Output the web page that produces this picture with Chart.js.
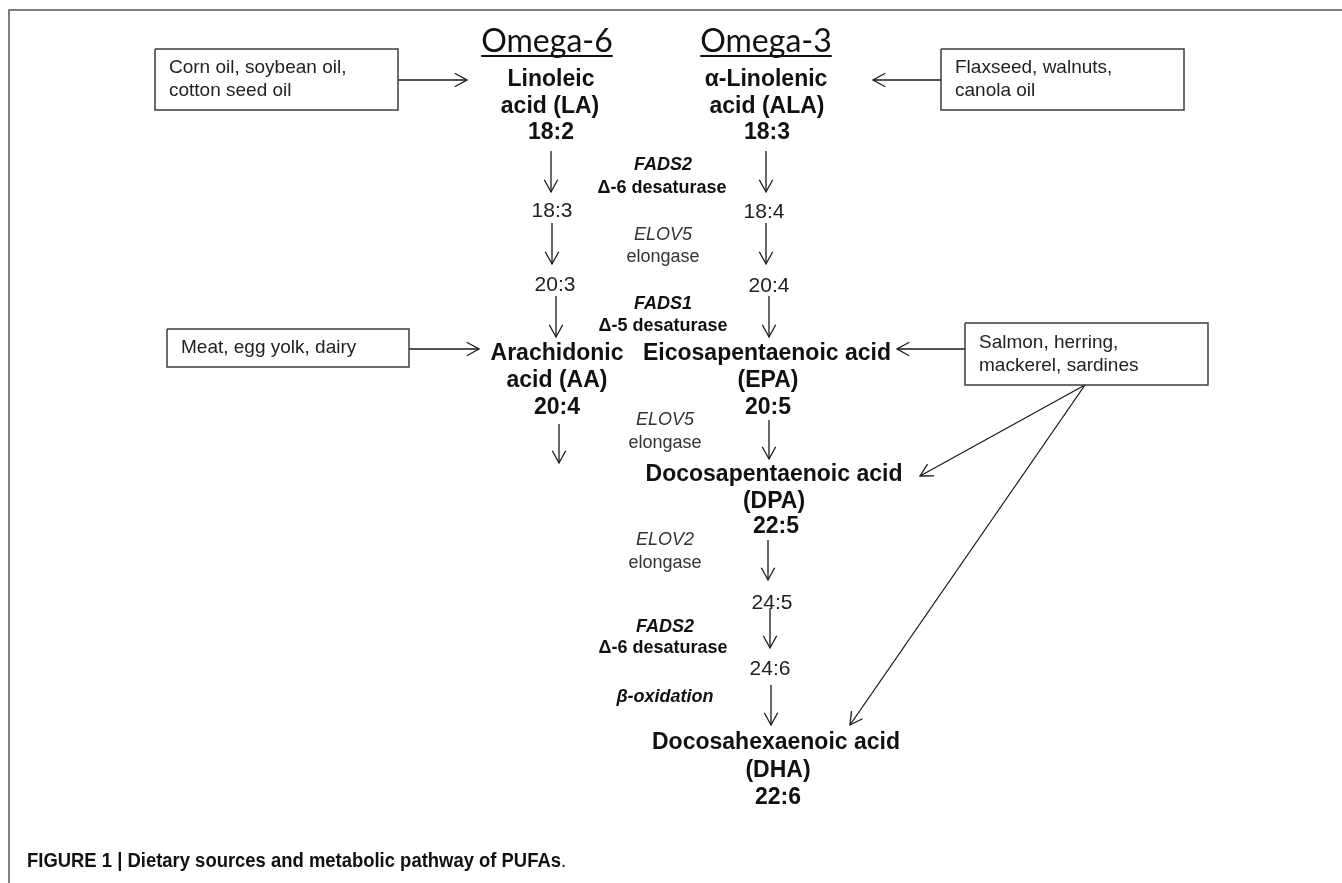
<!DOCTYPE html>
<html>
<head>
<meta charset="utf-8">
<title>Dietary sources and metabolic pathway of PUFAs</title>
<script src="https://cdn.jsdelivr.net/npm/chart.js@4.4.1/dist/chart.umd.min.js"></script>
<style>
  html, body { margin: 0; padding: 0; background: #fff; }
  #wrap { position: relative; width: 1342px; height: 883px; }
</style>
</head>
<body>
<div id="wrap"><canvas id="pathwayChart"></canvas></div>
<script>
// Diagram units are the picture's own pixels: x to the right, y downward

const omegaHeadings = [
    ['Omega-6', 547, 42],
    ['Omega-3', 766, 42]
];

// Fatty acids on the pathway: text, x, y
const compoundLines = [
    ['Linoleic', 551, 80], ['acid (LA)', 550, 107], ['18:2', 551, 133],
    ['α-Linolenic', 766, 80], ['acid (ALA)', 767, 107], ['18:3', 767, 133],
    ['Arachidonic', 557, 354], ['acid (AA)', 557, 381], ['20:4', 557, 408],
    ['Eicosapentaenoic acid', 767, 354], ['(EPA)', 768, 381], ['20:5', 768, 408],
    ['Docosapentaenoic acid', 774, 475], ['(DPA)', 774, 502], ['22:5', 776, 527],
    ['Docosahexaenoic acid', 776, 743], ['(DHA)', 778, 771], ['22:6', 778, 798]
];

const intermediates = [
    ['18:3', 552, 211], ['20:3', 555, 285],
    ['18:4', 764, 212], ['20:4', 769, 286],
    ['24:5', 772, 603], ['24:6', 770, 669]
];

// Enzymes between the two columns: text, x, y, face
const enzymeLabels = [
    ['FADS2', 663, 165, 'bold italic'], ['Δ-6 desaturase', 662, 188, 'bold'],
    ['ELOV5', 663, 235, 'italic'], ['elongase', 663, 257, 'normal'],
    ['FADS1', 663, 304, 'bold italic'], ['Δ-5 desaturase', 663, 326, 'bold'],
    ['ELOV5', 665, 420, 'italic'], ['elongase', 665, 443, 'normal'],
    ['ELOV2', 665, 540, 'italic'], ['elongase', 665, 563, 'normal'],
    ['FADS2', 665, 627, 'bold italic'], ['Δ-6 desaturase', 663, 648, 'bold'],
    ['β-oxidation', 665, 697, 'bold italic']
];

// Food sources: text lines, box left, top, right, bottom
const foodSources = [
    [['Corn oil, soybean oil,', 'cotton seed oil'], 155, 49, 398, 110],
    [['Flaxseed, walnuts,', 'canola oil'], 941, 49, 1184, 110],
    [['Meat, egg yolk, dairy'], 167, 329, 409, 367],
    [['Salmon, herring,', 'mackerel, sardines'], 965, 323, 1208, 385]
];

// Arrows: from x, from y, to x, to y
const conversionSteps = [
    [551, 151, 551, 192], [552, 223, 552, 264], [556, 296, 556, 337], [559, 424, 559, 463],
    [766, 151, 766, 192], [766, 223, 766, 264], [769, 296, 769, 337], [769, 420, 769, 459],
    [768, 540, 768, 580], [770, 608, 770, 648], [771, 685, 771, 725]
];
const sourceArrows = [
    [398, 80, 467, 80], [941, 80, 873, 80], [409, 349, 479, 349], [965, 349, 897, 349],
    [1085, 385, 920, 476], [1085, 385, 850, 725]
];

const frameLine = [[9, 883], [9, 10], [1342, 10]];

const captionText = ['FIGURE 1 | Dietary sources and metabolic pathway of PUFAs', '.', 27, 861];

const FONT = '"Liberation Sans", Arial, sans-serif';

function buildDatasets() {
    const sets = [];
    sets.push({
        data: frameLine.map(p => ({ x: p[0], y: p[1] })),
        borderColor: '#555', borderWidth: 1.5
    });
    foodSources.forEach(s => {
        const [, l, t, r, b] = s;
        sets.push({
            data: [{ x: l, y: t }, { x: r, y: t }, { x: r, y: b }, { x: l, y: b }, { x: l, y: t }],
            borderColor: '#3c3c3c', borderWidth: 1.5
        });
    });
    conversionSteps.concat(sourceArrows).forEach(a => {
        sets.push({
            data: [{ x: a[0], y: a[1] }, { x: a[2], y: a[3] }],
            borderColor: '#1a1a1a', borderWidth: 1.3, arrowHead: true
        });
    });
    sets.forEach(d => {
        d.showLine = true;
        d.pointRadius = 0;
        d.fill = false;
        d.tension = 0;
        d.borderJoinStyle = 'miter';
    });
    return sets;
}

const diagramText = {
    id: 'diagramText',
    afterDatasetsDraw(chart) {
        const ctx = chart.ctx;
        const sx = v => chart.scales.x.getPixelForValue(v);
        const sy = v => chart.scales.y.getPixelForValue(v);
        ctx.save();

        // open arrow heads
        chart.data.datasets.forEach((ds, i) => {
            if (!ds.arrowHead) return;
            const pts = chart.getDatasetMeta(i).data;
            const a = pts[0], b = pts[1];
            const ang = Math.atan2(b.y - a.y, b.x - a.x);
            const len = 14, spread = 0.5;
            ctx.strokeStyle = ds.borderColor;
            ctx.lineWidth = ds.borderWidth;
            ctx.beginPath();
            ctx.moveTo(b.x - len * Math.cos(ang - spread), b.y - len * Math.sin(ang - spread));
            ctx.lineTo(b.x, b.y);
            ctx.lineTo(b.x - len * Math.cos(ang + spread), b.y - len * Math.sin(ang + spread));
            ctx.stroke();
        });

        ctx.fillStyle = '#111';
        ctx.textBaseline = 'middle';
        ctx.textAlign = 'center';

        // Omega headings with underline
        ctx.font = '32px Lato, "Open Sans", sans-serif';
        omegaHeadings.forEach(h => {
            const x = sx(h[1]), y = sy(h[2]);
            ctx.fillText(h[0], x, y);
            const w = ctx.measureText(h[0]).width;
            ctx.strokeStyle = '#111';
            ctx.lineWidth = 2;
            ctx.beginPath();
            ctx.moveTo(x - w / 2, y + 14);
            ctx.lineTo(x + w / 2, y + 14);
            ctx.stroke();
        });

        ctx.font = 'bold 23px ' + FONT;
        compoundLines.forEach(c => ctx.fillText(c[0], sx(c[1]), sy(c[2])));

        ctx.fillStyle = '#222';
        ctx.font = '21px ' + FONT;
        intermediates.forEach(c => ctx.fillText(c[0], sx(c[1]), sy(c[2])));

        enzymeLabels.forEach(e => {
            ctx.fillStyle = e[3] === 'italic' || e[3] === 'normal' ? '#333' : '#111';
            ctx.font = e[3] + ' 18px ' + FONT;
            ctx.fillText(e[0], sx(e[1]), sy(e[2]));
        });

        // food source texts
        ctx.fillStyle = '#222';
        ctx.textAlign = 'left';
        ctx.font = '19px ' + FONT;
        foodSources.forEach(s => {
            const [lines, l, t, , b] = s;
            const mid = (t + b) / 2;
            lines.forEach((txt, k) => {
                const off = (k - (lines.length - 1) / 2) * 23;
                ctx.fillText(txt, sx(l) + 14, sy(mid + off));
            });
        });

        // caption, squeezed to the original's condensed width
        ctx.fillStyle = '#111';
        ctx.font = 'bold 20px ' + FONT;
        const bw = ctx.measureText(captionText[0]).width;
        const k = 534 / bw;
        ctx.save();
        ctx.translate(sx(captionText[2]), sy(captionText[3]));
        ctx.scale(k, 1);
        ctx.fillText(captionText[0], 0, 0);
        ctx.font = '20px ' + FONT;
        ctx.fillText(captionText[1], bw, 0);
        ctx.restore();

        ctx.restore();
    }
};

const ctx = document.getElementById('pathwayChart').getContext('2d');
new Chart(ctx, {
    type: 'scatter',
    data: { datasets: buildDatasets() },
    options: {
        responsive: true,
        maintainAspectRatio: false,
        animation: false,
        events: [],
        layout: { padding: 0 },
        scales: {
            x: { type: 'linear', min: 0, max: 1342, display: false },
            y: { type: 'linear', min: 0, max: 883, reverse: true, display: false }
        },
        plugins: { legend: { display: false }, tooltip: { enabled: false } }
    },
    plugins: [diagramText]
});
</script>
</body>
</html>
